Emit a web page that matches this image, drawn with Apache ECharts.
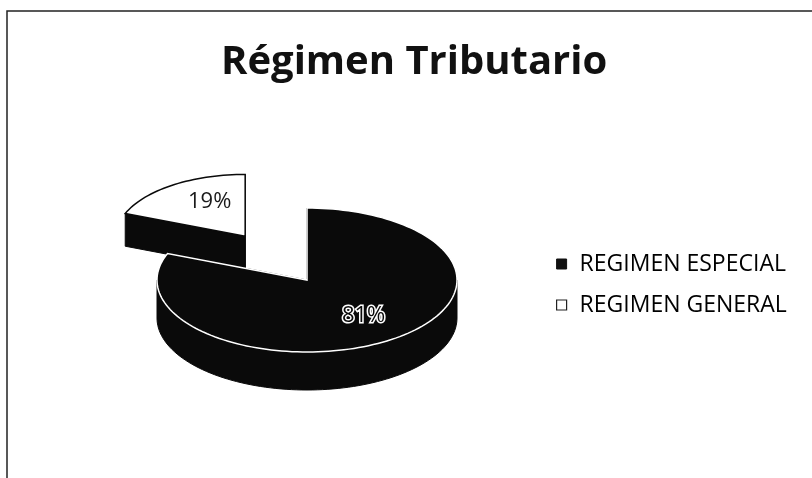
<!DOCTYPE html>
<html>
<head>
<meta charset="utf-8">
<script src="https://cdn.jsdelivr.net/npm/echarts@6/dist/echarts.min.js"></script>
<style>
  html, body { margin: 0; padding: 0; background: #fff; }
  #main { width: 812px; height: 478px; }
</style>
</head>
<body>
<div id="main"></div>
<script>
var categories = ["REGIMEN ESPECIAL", "REGIMEN GENERAL"];
var values = [81, 19];
var percentLabels = ["81%", "19%"];

var total = values.reduce(function (a, b) { return a + b; }, 0);
var chart = echarts.init(document.getElementById("main"));

// pie drawn as a tilted disc: center, radii and depth in px
var pie = { cx: 307, cy: 280, rx: 150, ry: 72, depth: 38 };
var explode = [0, 110]; // px moved along slice middle
var shrink = [1, 0.86]; // farther slice looks smaller

function pt(cx, cy, rx, ry, deg) {
  var r = deg * Math.PI / 180;
  return [cx + rx * Math.sin(r), cy - ry * Math.cos(r)];
}

function arc(cx, cy, rx, ry, a, b) {
  var out = [];
  var n = Math.max(2, Math.ceil(Math.abs(b - a) / 2));
  for (var i = 0; i <= n; i++) {
    out.push(pt(cx, cy, rx, ry, a + (b - a) * i / n));
  }
  return out;
}

function renderSlice(params, api) {
  var idx = params.seriesIndex;
  var before = 0;
  for (var i = 0; i < idx; i++) before += values[i];
  var start = 360 * before / total;
  var end = start + 360 * api.value(0) / total;
  var mid = (start + end) / 2;
  var k = shrink[idx];
  var rx = pie.rx * k, ry = pie.ry * k, d = pie.depth * k;
  var m = mid * Math.PI / 180;
  var cx = pie.cx + explode[idx] * Math.sin(m);
  var cy = pie.cy - explode[idx] * Math.cos(m) * (pie.ry / pie.rx);
  var fill = idx === 0 ? "#0a0a0a" : "#ffffff";
  var children = [];

  // radial walls
  [start, end].forEach(function (a) {
    var p = pt(cx, cy, rx, ry, a);
    children.push({
      type: "polygon",
      shape: { points: [[cx, cy], p, [p[0], p[1] + d], [cx, cy + d]] },
      style: { fill: "#0a0a0a", stroke: "#0a0a0a", lineWidth: 1 }
    });
  });

  // front curved wall
  var a0 = Math.max(start, 90), b0 = Math.min(end, 270);
  if (a0 < b0) {
    var top = arc(cx, cy, rx, ry, a0, b0);
    var bottom = arc(cx, cy + d, rx, ry, b0, a0);
    children.push({
      type: "polygon",
      shape: { points: top.concat(bottom) },
      style: { fill: "#0a0a0a", stroke: "#0a0a0a", lineWidth: 1 }
    });
  }

  // top face
  children.push({
    type: "polygon",
    shape: { points: [[cx, cy]].concat(arc(cx, cy, rx, ry, start, end)) },
    style: {
      fill: fill,
      stroke: idx === 0 ? "#ffffff" : "#0a0a0a",
      lineWidth: 1.5
    }
  });

  // percent label
  var lp = pt(cx, cy, rx * 0.6, ry * 0.6, mid);
  children.push({
    type: "text",
    z2: 10,
    style: idx === 0 ? {
      x: lp[0] + 6, y: lp[1],
      text: percentLabels[idx],
      fill: "#0a0a0a",
      stroke: "#ffffff",
      lineWidth: 3,
      font: "22px 'Open Sans'",
      align: "center", verticalAlign: "middle"
    } : {
      x: lp[0] + 8, y: lp[1] - 4,
      text: percentLabels[idx],
      fill: "#1a1a1a",
      font: "22px 'Open Sans'",
      align: "center", verticalAlign: "middle"
    }
  });

  return { type: "group", children: children };
}

var option = {
  animation: false,
  backgroundColor: "#ffffff",
  title: {
    text: "Régimen Tributario",
    left: 216,
    top: 38,
    textStyle: {
      fontFamily: "Open Sans",
      fontSize: 40,
      fontWeight: "bold",
      color: "#111"
    }
  },
  legend: {
    orient: "vertical",
    left: 551,
    top: 247,
    itemWidth: 10,
    itemHeight: 10,
    itemGap: 17,
    icon: "rect",
    textStyle: {
      fontFamily: "Open Sans",
      fontSize: 23,
      lineHeight: 24,
      color: "#000",
      padding: [0, 0, 0, 8]
    },
    data: [
      { name: categories[0], itemStyle: { color: "#111", borderColor: "#111", borderWidth: 1 } },
      { name: categories[1], itemStyle: { color: "#fff", borderColor: "#222", borderWidth: 1.2 } }
    ]
  },
  graphic: [{
    type: "rect",
    shape: { x: 7, y: 11, width: 900, height: 600 },
    style: { fill: "none", stroke: "#222", lineWidth: 1.5 }
  }],
  series: [
    { name: categories[0], type: "custom", coordinateSystem: "none", renderItem: renderSlice, z: 3, data: [values[0]] },
    { name: categories[1], type: "custom", coordinateSystem: "none", renderItem: renderSlice, z: 2, data: [values[1]] }
  ]
};

chart.setOption(option);
</script>
</body>
</html>
